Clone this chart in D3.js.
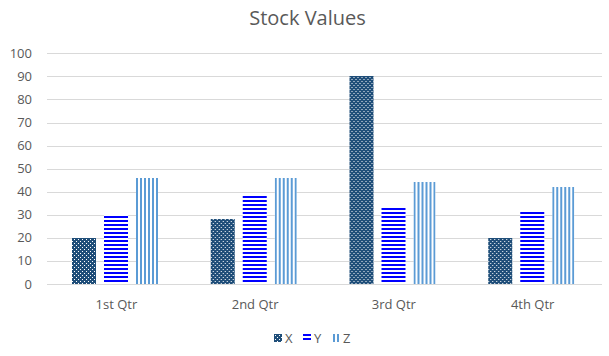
<!DOCTYPE html>
<html><head><meta charset="utf-8">
<script src="https://cdn.jsdelivr.net/npm/d3@7"></script>
<style>body{margin:0;background:#fff;}svg{display:block;}text{font-family:"Open Sans",sans-serif;fill:#595959;}</style>
</head><body>
<svg id="c" width="609" height="356"></svg>
<script>
const categories = ["1st Qtr", "2nd Qtr", "3rd Qtr", "4th Qtr"];
const seriesNames = ["X", "Y", "Z"];
const X = [20, 28, 90, 20];
const Y = [30, 38, 33, 31];
const Z = [46, 46, 44, 42];
const yTicks = [0, 10, 20, 30, 40, 50, 60, 70, 80, 90, 100];
const title = "Stock Values";

const seriesValues = [X, Y, Z];
const svg = d3.select("#c");
const W = 609, H = 356;
const plotLeft = 47, plotRight = 602, plotTop = 53.3, plotBottom = 284;

const defs = svg.append("defs");
// X: dark blue with white dots
const pX = defs.append("pattern").attr("id", "pX").attr("patternUnits", "userSpaceOnUse").attr("width", 4).attr("height", 4);
pX.append("rect").attr("width", 4).attr("height", 4).attr("fill", "#1f4e79");
pX.append("rect").attr("x", 1).attr("y", 1).attr("width", 1).attr("height", 1).attr("fill", "#fff");
pX.append("rect").attr("x", 3).attr("y", 3).attr("width", 1).attr("height", 1).attr("fill", "#fff");
// Y: horizontal blue stripes
const pY = defs.append("pattern").attr("id", "pY").attr("patternUnits", "userSpaceOnUse").attr("width", 4).attr("height", 4);
pY.append("rect").attr("width", 4).attr("height", 4).attr("fill", "#fff");
pY.append("rect").attr("y", 0).attr("width", 4).attr("height", 2).attr("fill", "#0000ff");
// Z: vertical light blue stripes
const pZ = defs.append("pattern").attr("id", "pZ").attr("patternUnits", "userSpaceOnUse").attr("width", 4).attr("height", 4);
pZ.append("rect").attr("width", 4).attr("height", 4).attr("fill", "#fff");
pZ.append("rect").attr("x", 1).attr("width", 2).attr("height", 4).attr("fill", "#5b9bd5");
const fills = ["url(#pX)", "url(#pY)", "url(#pZ)"];

const x0 = d3.scaleBand().domain(categories).range([plotLeft, plotRight]).padding(0);
const groupW = 88;
const x1 = d3.scaleBand().domain(seriesNames)
  .range([(x0.bandwidth() - groupW) / 2, (x0.bandwidth() + groupW) / 2])
  .paddingInner(0.25).paddingOuter(0);
const y = d3.scaleLinear().domain([0, 100]).range([plotBottom, plotTop]);

// gridlines
svg.append("g").selectAll("line").data(yTicks.filter(d => d > 0)).join("line")
  .attr("x1", plotLeft).attr("x2", plotRight)
  .attr("y1", d => Math.round(y(d)) + 0.5).attr("y2", d => Math.round(y(d)) + 0.5)
  .attr("stroke", "#d9d9d9").attr("stroke-width", 1);

// y labels
svg.append("g").selectAll("text").data(yTicks).join("text")
  .attr("x", 32).attr("y", d => y(d)).attr("dy", "0.35em")
  .attr("text-anchor", "end").attr("font-size", 13).text(d => d);

// bars
const groups = svg.append("g").selectAll("g").data(categories).join("g")
  .attr("transform", c => `translate(${x0(c)},0)`);
groups.selectAll("rect").data((c, i) => seriesNames.map((s, j) => ({ s, j, v: seriesValues[j][i] }))).join("rect")
  .attr("x", d => Math.round(x1(d.s)))
  .attr("width", d => Math.round(x1.bandwidth()) - (d.j === 2 ? 2 : 0))
  .attr("y", d => Math.round(y(d.v)))
  .attr("height", d => plotBottom - Math.round(y(d.v)))
  .attr("fill", d => fills[d.j]);

// x axis line
svg.append("line").attr("x1", plotLeft).attr("x2", plotRight)
  .attr("y1", Math.round(plotBottom) + 0.5).attr("y2", Math.round(plotBottom) + 0.5)
  .attr("stroke", "#d9d9d9").attr("stroke-width", 1);

// category labels
svg.append("g").selectAll("text").data(categories).join("text")
  .attr("x", c => x0(c) + x0.bandwidth() / 2).attr("y", 304).attr("dy", "0.35em")
  .attr("text-anchor", "middle").attr("font-size", 13).text(c => c);

// title
svg.append("text").attr("x", W / 2 + 3).attr("y", 25).attr("text-anchor", "middle")
  .attr("font-size", 20).text(title);

// legend
const leg = svg.append("g").selectAll("g").data(seriesNames).join("g")
  .attr("transform", (d, i) => `translate(${274 + i * 29},334)`);
leg.append("rect").attr("width", 8).attr("height", 8).attr("fill", (d, i) => fills[i]);
leg.append("text").attr("x", 11).attr("y", 4).attr("dy", "0.35em").attr("font-size", 13).text(d => d);
</script>
</body></html>
